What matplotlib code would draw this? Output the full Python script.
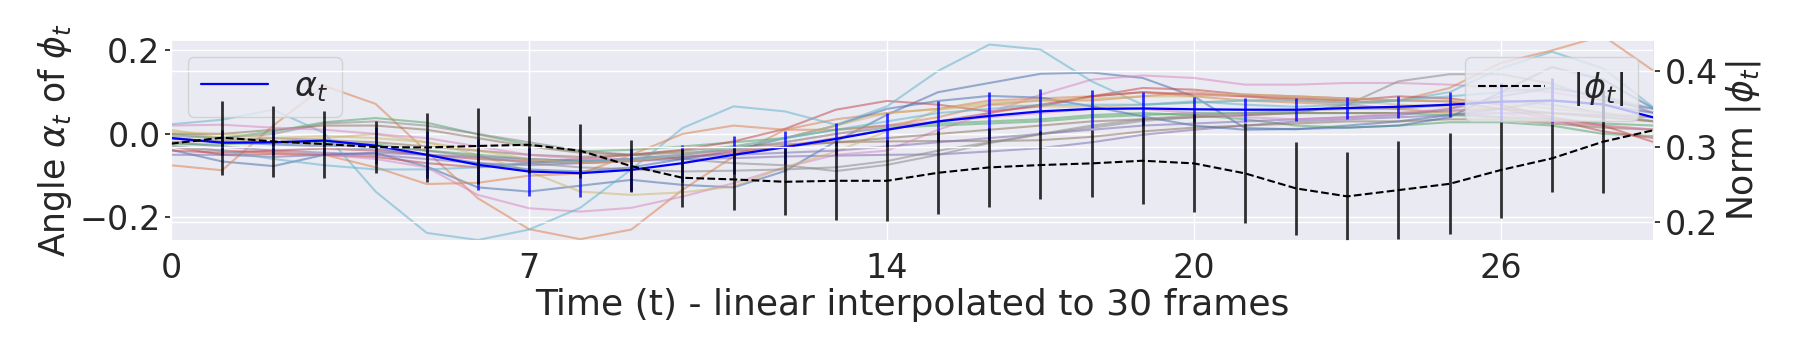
import matplotlib
matplotlib.use('Agg')
import matplotlib.pyplot as plt
import seaborn as sns
import numpy as np

sns.set_theme(style='darkgrid')

frames = np.arange(30)
xticks = [0, 7, 14, 20, 26]

# mean angle and its std (left axis)
alpha_mean = [-0.010, -0.021, -0.020, -0.016, -0.028, -0.050, -0.074, -0.090, -0.094, -0.086,
              -0.070, -0.050, -0.032, -0.012, 0.010, 0.030, 0.043, 0.054, 0.060, 0.061,
              0.059, 0.058, 0.058, 0.062, 0.065, 0.070, 0.077, 0.080, 0.071, 0.039]
alpha_std = [0.0, 0.030, 0.030, 0.035, 0.045, 0.056, 0.061, 0.059, 0.058, 0.050,
             0.044, 0.046, 0.040, 0.038, 0.041, 0.050, 0.057, 0.054, 0.045, 0.040,
             0.030, 0.029, 0.027, 0.027, 0.027, 0.030, 0.045, 0.053, 0.035, 0.030]

# mean norm and its std (right axis)
norm_mean = [0.304, 0.312, 0.307, 0.3035, 0.2996, 0.299, 0.301, 0.3026, 0.2947, 0.2744,
             0.259, 0.2568, 0.2537, 0.255, 0.255, 0.2656, 0.2727, 0.2758, 0.278, 0.2815,
             0.278, 0.2648, 0.2449, 0.2344, 0.2427, 0.251, 0.2692, 0.2846, 0.3066, 0.322]
norm_std = [0.0, 0.0487, 0.0465, 0.0443, 0.0341, 0.0452, 0.050, 0.0374, 0.0357, 0.0348,
            0.0383, 0.041, 0.0445, 0.0524, 0.0537, 0.055, 0.052, 0.0454, 0.044, 0.0577,
            0.0648, 0.066, 0.0612, 0.059, 0.0645, 0.0665, 0.0634, 0.045, 0.068, 0.119]

# individual samples
blue1 = [-0.038, -0.066, -0.077, -0.050, -0.046, -0.078, -0.128, -0.138, -0.124, -0.110,
         -0.122, -0.128, -0.089, -0.018, 0.046, 0.100, 0.122, 0.144, 0.147, 0.134,
         0.090, 0.014, 0.011, 0.020, 0.030, 0.045, 0.060, 0.080, 0.070, 0.050]
orange1 = [-0.075, -0.087, 0.020, 0.115, 0.072, -0.042, -0.154, -0.228, -0.252, -0.229,
           -0.134, -0.054, 0.010, 0.035, 0.050, 0.060, 0.080, 0.085, 0.090, 0.100,
           0.090, 0.080, 0.075, 0.070, 0.060, 0.050, 0.040, 0.030, 0.020, 0.010]
green1 = [0.000, -0.010, 0.006, 0.028, 0.038, 0.027, -0.001, -0.026, -0.042, -0.038,
          -0.030, -0.020, -0.010, 0.010, 0.020, 0.025, 0.030, 0.035, 0.045, 0.050,
          0.045, 0.035, 0.020, 0.015, 0.020, 0.028, 0.028, 0.020, 0.000, -0.005]
red1 = [-0.030, -0.050, -0.048, -0.050, -0.055, -0.070, -0.080, -0.070, -0.060, -0.050,
        -0.038, -0.018, 0.012, 0.058, 0.079, 0.070, 0.054, 0.066, 0.090, 0.110,
        0.106, 0.094, 0.090, 0.085, 0.080, 0.078, 0.060, 0.035, 0.006, -0.010]
purple1 = [-0.020, -0.030, -0.040, -0.045, -0.050, -0.060, -0.070, -0.075, -0.070, -0.065,
           -0.060, -0.058, -0.054, -0.052, -0.050, -0.049, -0.042, -0.034, -0.020, -0.002,
           0.010, 0.020, 0.030, 0.035, 0.040, 0.045, 0.050, 0.050, 0.045, 0.040]
brown1 = [-0.020, -0.015, -0.010, -0.015, -0.020, -0.030, -0.040, -0.050, -0.055, -0.050,
          -0.040, -0.030, -0.025, -0.020, -0.018, -0.017, -0.017, -0.015, -0.007, 0.006,
          0.015, 0.020, 0.025, 0.030, 0.030, 0.035, 0.035, 0.025, 0.015, 0.010]
pink1 = [-0.030, -0.040, -0.045, -0.050, -0.060, -0.080, -0.146, -0.178, -0.186, -0.177,
         -0.150, -0.118, -0.080, -0.050, -0.040, 0.010, 0.050, 0.094, 0.130, 0.140,
         0.134, 0.118, 0.118, 0.122, 0.122, 0.118, 0.110, 0.100, 0.080, 0.060]
gray1 = [-0.005, -0.010, 0.000, 0.025, 0.030, 0.020, 0.000, -0.020, -0.040, -0.050,
         -0.060, -0.070, -0.075, -0.089, -0.074, -0.050, -0.022, -0.001, 0.015, 0.031,
         0.040, 0.045, 0.050, 0.070, 0.126, 0.143, 0.143, 0.120, 0.080, 0.060]
olive1 = [0.010, -0.010, -0.020, -0.010, 0.000, -0.020, -0.050, -0.090, -0.138, -0.146,
          -0.140, -0.126, -0.080, -0.042, 0.006, 0.058, 0.070, 0.066, 0.065, 0.070,
          0.075, 0.080, 0.085, 0.080, 0.070, 0.065, 0.060, 0.050, 0.040, 0.030]
cyan1 = [0.023, 0.034, 0.058, 0.002, -0.138, -0.237, -0.254, -0.229, -0.177, -0.085,
         0.014, 0.066, 0.054, 0.022, 0.066, 0.151, 0.214, 0.202, 0.126, 0.070,
         0.078, 0.070, 0.065, 0.070, 0.080, 0.100, 0.157, 0.197, 0.157, 0.062]
blue2 = [-0.010, -0.020, -0.025, -0.030, -0.035, -0.050, -0.070, -0.085, -0.090, -0.080,
         -0.060, -0.040, -0.010, 0.020, 0.060, 0.079, 0.091, 0.087, 0.066, 0.042,
         0.020, 0.010, 0.012, 0.015, 0.020, 0.040, 0.100, 0.160, 0.130, 0.060]
orange2 = [-0.030, -0.040, -0.045, -0.050, -0.080, -0.120, -0.117, -0.100, -0.095, -0.050,
           0.000, 0.020, 0.010, 0.010, 0.020, 0.040, 0.070, 0.080, 0.080, 0.090,
           0.100, 0.090, 0.080, 0.075, 0.080, 0.110, 0.170, 0.200, 0.235, 0.150]
green2 = [-0.025, -0.025, -0.020, -0.020, -0.025, -0.040, -0.050, -0.060, -0.065, -0.060,
          -0.050, -0.035, -0.020, 0.000, 0.015, 0.020, 0.025, 0.030, 0.040, 0.045,
          0.050, 0.050, 0.050, 0.050, 0.050, 0.045, 0.040, 0.035, 0.025, 0.020]
red2 = [-0.040, -0.045, -0.040, -0.035, -0.040, -0.050, -0.060, -0.065, -0.070, -0.065,
        -0.055, -0.045, -0.030, -0.010, 0.010, 0.030, 0.050, 0.070, 0.090, 0.100,
        0.095, 0.090, 0.085, 0.080, 0.090, 0.085, 0.070, 0.040, 0.020, -0.020]
purple2 = [-0.050, -0.050, -0.055, -0.050, -0.045, -0.050, -0.055, -0.060, -0.065, -0.060,
           -0.055, -0.050, -0.045, -0.040, -0.030, -0.020, -0.010, 0.000, 0.010, 0.020,
           0.025, 0.030, 0.035, 0.040, 0.045, 0.060, 0.090, 0.110, 0.090, 0.050]
brown2 = [0.000, 0.000, 0.010, 0.020, 0.020, 0.010, -0.010, -0.030, -0.045, -0.050,
          -0.045, -0.040, -0.030, -0.020, -0.010, 0.000, 0.010, 0.020, 0.030, 0.035,
          0.040, 0.045, 0.050, 0.050, 0.050, 0.055, 0.060, 0.050, 0.040, 0.030]
pink2 = [0.020, 0.022, 0.015, 0.010, 0.000, -0.010, -0.030, -0.050, -0.060, -0.060,
         -0.050, -0.040, -0.020, 0.000, 0.020, 0.030, 0.040, 0.050, 0.060, 0.060,
         0.050, 0.040, 0.035, 0.040, 0.050, 0.060, 0.050, 0.030, 0.020, 0.010]
gray2 = [-0.010, -0.020, -0.020, -0.025, -0.030, -0.040, -0.055, -0.070, -0.080, -0.085,
         -0.090, -0.088, -0.085, -0.080, -0.065, -0.040, -0.020, 0.000, 0.020, 0.035,
         0.045, 0.050, 0.055, 0.060, 0.060, 0.070, 0.080, 0.070, 0.050, 0.030]
olive2 = [0.005, 0.000, -0.010, -0.005, -0.010, -0.020, -0.040, -0.060, -0.070, -0.065,
          -0.050, -0.030, -0.010, 0.020, 0.050, 0.060, 0.075, 0.080, 0.085, 0.090,
          0.090, 0.095, 0.090, 0.085, 0.080, 0.080, 0.075, 0.060, 0.050, 0.040]
cyan2 = [-0.030, -0.040, -0.060, -0.075, -0.085, -0.085, -0.080, -0.070, -0.065, -0.060,
         -0.050, -0.030, -0.010, 0.010, 0.030, 0.050, 0.060, 0.070, 0.070, 0.070,
         0.075, 0.080, 0.080, 0.075, 0.080, 0.090, 0.100, 0.110, 0.090, 0.060]

samples = [blue1, orange1, green1, red1, purple1, brown1, pink1, gray1, olive1, cyan1,
           blue2, orange2, green2, red2, purple2, brown2, pink2, gray2, olive2, cyan2]

fig, ax = plt.subplots(figsize=(18, 3.6))
fig.subplots_adjust(left=0.095, right=0.919, top=0.889, bottom=0.331)

for s in samples:
    ax.plot(frames, s, alpha=0.55, lw=1.5)
ax.plot(frames, alpha_mean, color='blue', lw=1.6, label=r'$\alpha_t$')
ax.errorbar(frames, alpha_mean, yerr=alpha_std, fmt='none', ecolor='blue', alpha=0.8, elinewidth=2)
ax.set_xlim(0, 29)
ax.set_ylim(-0.256, 0.225)
ax.set_xticks(xticks)
ax.set_xlabel('Time (t) - linear interpolated to 30 frames', fontsize=26, labelpad=2)
ax.set_ylabel(r'Angle $\alpha_t$ of $\phi_t$', fontsize=25)
ax.tick_params(axis='both', labelsize=24)
ax.tick_params(axis='x', pad=2)
ax.tick_params(axis='y', left=True, length=4, color='.15')
ax.legend(loc='upper left', fontsize=24)

ax2 = ax.twinx()
ax2.plot(frames, norm_mean, color='black', ls='--', lw=1.5, label=r'$|\phi_t|$')
ax2.errorbar(frames, norm_mean, yerr=norm_std, fmt='none', ecolor='black', alpha=0.8, elinewidth=2)
ax2.set_ylim(0.1757, 0.441)
ax2.set_yticks([0.2, 0.3, 0.4])
ax2.set_ylabel(r'Norm $|\phi_t|$', fontsize=25)
ax2.tick_params(axis='y', labelsize=24, right=True, length=4, color='.15')
ax2.legend(loc='upper right', fontsize=24)

plt.savefig('out.png', dpi=100)
